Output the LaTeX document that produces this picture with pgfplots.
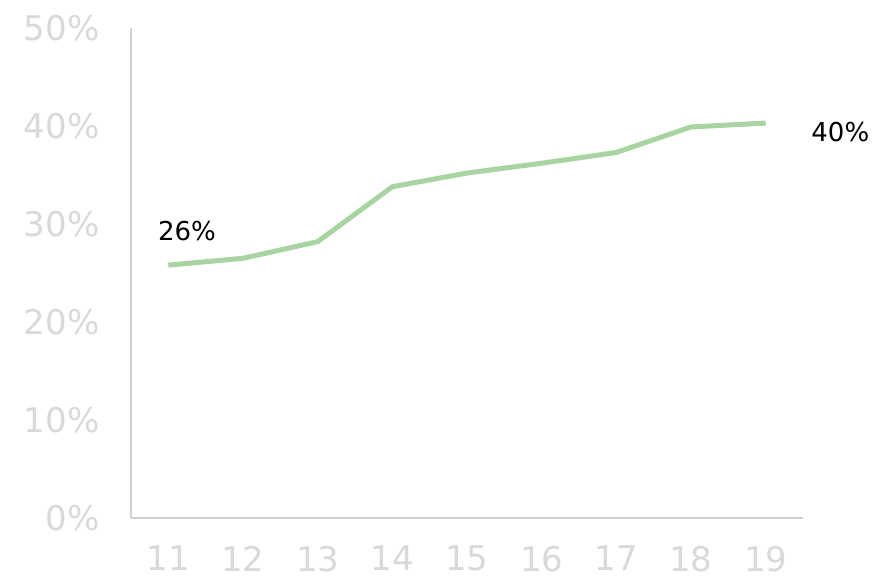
\documentclass[border=0pt]{standalone}
\usepackage{pgfplots}
\pgfplotsset{compat=1.18}
\usetikzlibrary{calc}
\usepackage{fontspec}
\setmainfont{DejaVu Sans}
\definecolor{linegreen}{HTML}{A7D4A0}
\definecolor{ticklab}{HTML}{D9D9D9}
\definecolor{axisgray}{HTML}{D0D0D0}

\begin{document}
\begin{tikzpicture}
\begin{axis}[
  scale only axis,
  width=672bp, height=490bp,
  xmin=10.5, xmax=19.5,
  ymin=0, ymax=50,
  xtick={11,12,...,19},
  ytick={0,10,20,30,40,50},
  yticklabel={\pgfmathprintnumber{\tick}\%},
  /pgf/number format/assume math mode=true,
  axis lines=left,
  axis line style={-, draw=axisgray, line width=1.5bp},
  major tick length=0pt,
  tick label style={font=\fontsize{34bp}{40bp}\selectfont, text=ticklab},
  xticklabel style={yshift=-27bp, inner sep=1bp},
  yticklabel style={xshift=-28bp},
  clip=false,
]
\addplot[linegreen, line width=5bp] coordinates {
  (11,25.8) (12,26.5) (13,28.2) (14,33.8) (15,35.2)
  (16,36.2) (17,37.3) (18,39.9) (19,40.3)
};
\node[font=\fontsize{26bp}{30bp}\selectfont] at (axis cs:11.25,29.3) {26\%};
\node[font=\fontsize{26bp}{30bp}\selectfont] at (axis cs:20.0,39.4) {40\%};
\end{axis}
\pgfresetboundingbox
\path[use as bounding box] ($(current axis.south west)+(-131bp,-67bp)$) rectangle ($(current axis.north east)+(93bp,28bp)$);
\end{tikzpicture}
\end{document}
